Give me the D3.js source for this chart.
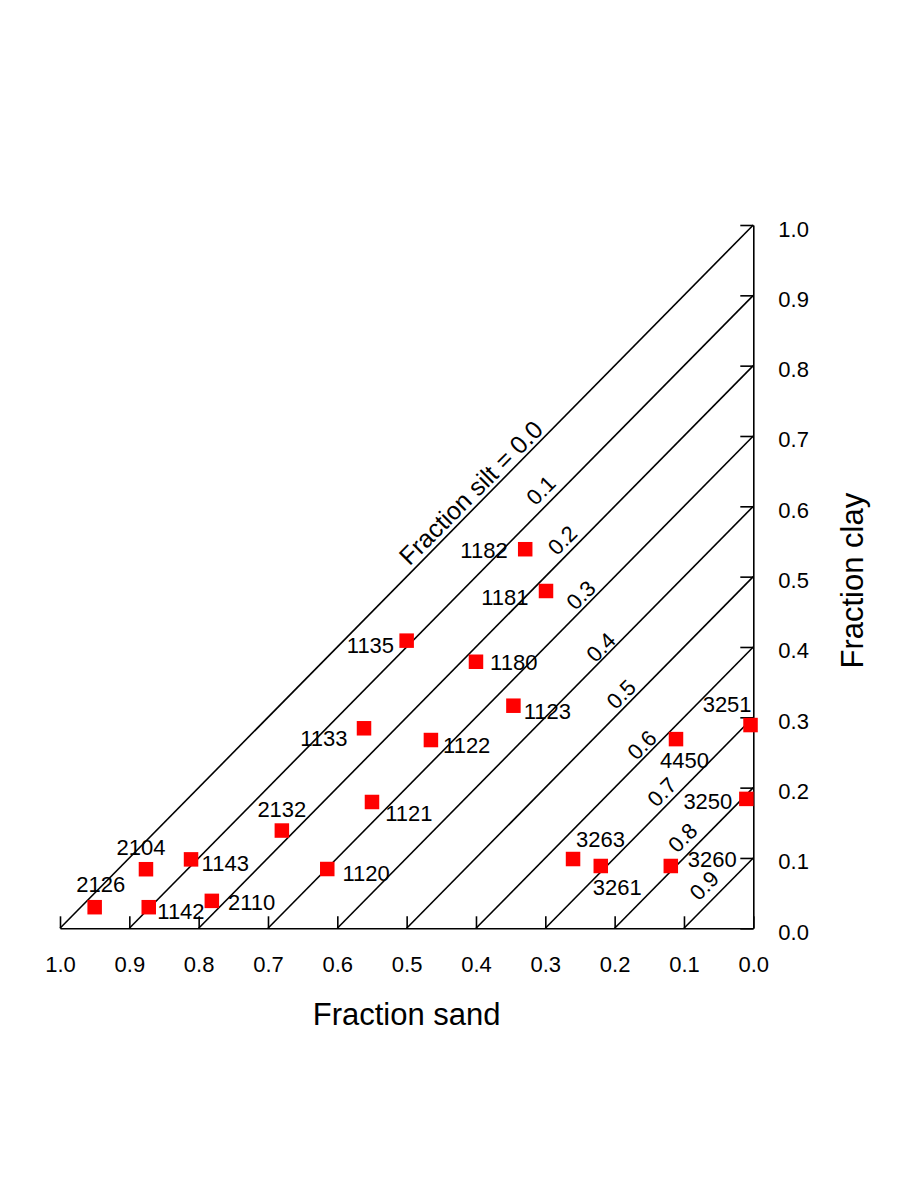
<!DOCTYPE html>
<html>
<head>
<meta charset="utf-8">
<script src="https://cdn.jsdelivr.net/npm/d3@7"></script>
<style>
  html, body { margin: 0; padding: 0; background: #ffffff; }
  svg { display: block; }
  text { font-family: "Liberation Sans", Arial, Helvetica, sans-serif; fill: #000; }
</style>
</head>
<body>
<svg id="chart" width="915" height="1190"></svg>
<script>
// ---------------- data ----------------
const sampleIds = ["2126","1142","2104","1143","2110","2132","1120","1121","1133","1122","1135",
                   "1180","1123","1182","1181","3263","3261","3260","4450","3251","3250"];
const sandFrac  = [0.950,0.872,0.876,0.811,0.781,0.680,0.6145,0.550,0.5615,0.465,0.500,
                   0.400,0.346,0.329,0.299,0.260,0.220,0.119,0.1115,0.004,0.010];
const clayFrac  = [0.030,0.030,0.084,0.098,0.039,0.139,0.0843,0.1796,0.2844,0.2677,0.409,
                   0.379,0.3165,0.539,0.4796,0.0985,0.0886,0.0886,0.269,0.289,0.184];

const siltLevels = [0.0,0.1,0.2,0.3,0.4,0.5,0.6,0.7,0.8,0.9];
const siltLabels = ["Fraction silt = 0.0","0.1","0.2","0.3","0.4","0.5","0.6","0.7","0.8","0.9"];
// annotation anchors (sand, clay) of each silt label
const siltLabelSand = [0.4075,0.3065,0.2755,0.249,0.220,0.191,0.161,0.132,0.102,0.071];
const siltLabelClay = [0.6197,0.623,0.552,0.474,0.400,0.333,0.261,0.194,0.129,0.061];

const sandTicks = [1.0,0.9,0.8,0.7,0.6,0.5,0.4,0.3,0.2,0.1,0.0];
const clayTicks = [0.0,0.1,0.2,0.3,0.4,0.5,0.6,0.7,0.8,0.9,1.0];

const xTitle = "Fraction sand";
const yTitle = "Fraction clay";

// ---------------- layout ----------------
const plotLeft = 60, plotRight = 753.3, plotBottom = 928.3, plotTop = 225;
const fontSmall = 22, fontTitle = 31, fontSiltMain = 25;
const sq = 14.5;
// label placement relative to the point: [dx of text centre, dy of baseline]
const labelPlacement = {
  "2126":[6,-15.6], "1142":[32.2,11.3], "2104":[-5,-14.3], "1143":[34.2,11.7],
  "2110":[39.8,9], "2132":[0,-14], "1120":[38.9,11.7], "1121":[36.8,19],
  "1133":[-40.2,17.4], "1122":[35.8,13.3], "1135":[-36.2,12.6], "1180":[37.8,8.3],
  "1123":[33.9,13.3], "1182":[-41.2,8.7], "1181":[-41.2,14], "3263":[27.5,-12.3],
  "3261":[16.5,29], "3260":[41.5,0.7], "4450":[8.5,29.3], "3251":[-23.4,-13.3],
  "3250":[-38.5,10.3]
};

const svg = d3.select("#chart");
svg.append("rect").attr("width",915).attr("height",1190).attr("fill","#fff");

const x = d3.scaleLinear().domain([1,0]).range([plotLeft,plotRight]);
const y = d3.scaleLinear().domain([0,1]).range([plotBottom,plotTop]);
const fmt = d3.format(".1f");
const sw = 1.6;

// silt iso-lines
svg.append("g").selectAll("line").data(siltLevels).join("line")
  .attr("x1", s => x(1 - s)).attr("y1", y(0))
  .attr("x2", x(0)).attr("y2", s => y(1 - s))
  .attr("stroke","#000").attr("stroke-width",sw);

// bottom axis
const gx = svg.append("g").attr("transform",`translate(0,${plotBottom})`)
  .call(d3.axisBottom(x).tickValues(sandTicks).tickFormat(fmt).tickSizeInner(-12).tickSizeOuter(0));
gx.selectAll("path,line").attr("stroke","#000").attr("stroke-width",sw);
gx.selectAll("text").attr("y",43.7).attr("dy",null)
  .style("font-size",fontSmall+"px").style("font-family",'"Liberation Sans", Arial, sans-serif').attr("fill","#000");

// right axis
const gy = svg.append("g").attr("transform",`translate(${plotRight},0)`)
  .call(d3.axisRight(y).tickValues(clayTicks).tickFormat(fmt).tickSizeInner(-13).tickSizeOuter(0));
gy.selectAll("path,line").attr("stroke","#000").attr("stroke-width",sw);
gy.selectAll("text").attr("x",25).attr("dy",null).attr("y",11)
  .style("font-size",fontSmall+"px").style("font-family",'"Liberation Sans", Arial, sans-serif').attr("fill","#000");

// silt labels
svg.append("g").selectAll("text").data(siltLabels).join("text")
  .attr("transform",(d,i) => `translate(${x(siltLabelSand[i])},${y(siltLabelClay[i])}) rotate(-45)`)
  .attr("text-anchor","middle").attr("dy","0.36em")
  .style("font-size",(d,i) => (i === 0 ? fontSiltMain : fontSmall) + "px")
  .text(d => d);

// sample points
const pts = sampleIds.map((id,i) => ({id, sand: sandFrac[i], clay: clayFrac[i]}));
svg.append("g").selectAll("rect").data(pts).join("rect")
  .attr("x", d => x(d.sand) - sq/2).attr("y", d => y(d.clay) - sq/2)
  .attr("width",sq).attr("height",sq).attr("fill","#ff0000");

svg.append("g").selectAll("text").data(pts).join("text")
  .attr("x", d => x(d.sand) + labelPlacement[d.id][0])
  .attr("y", d => y(d.clay) + labelPlacement[d.id][1])
  .attr("text-anchor","middle")
  .style("font-size",fontSmall+"px")
  .text(d => d.id);

// axis titles
svg.append("text").attr("x",(plotLeft+plotRight)/2).attr("y",1025)
  .attr("text-anchor","middle").style("font-size",fontTitle+"px").text(xTitle);
svg.append("text").attr("transform",`translate(862.7,${(plotTop+plotBottom)/2+4}) rotate(-90)`)
  .attr("text-anchor","middle").style("font-size",fontTitle+"px").text(yTitle);
</script>
</body>
</html>
